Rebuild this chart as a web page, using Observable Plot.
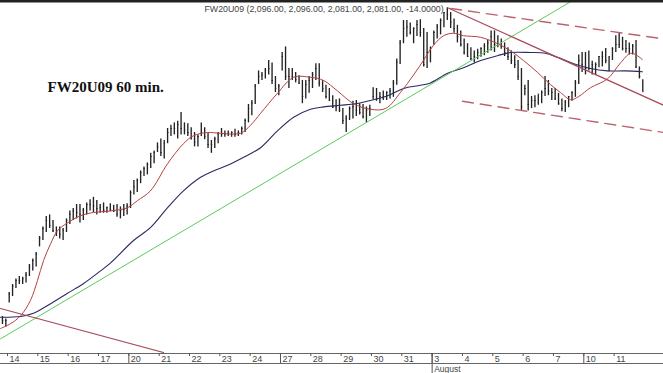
<!DOCTYPE html>
<html><head><meta charset="utf-8">
<script src="https://cdn.jsdelivr.net/npm/d3@7"></script>
<script src="https://cdn.jsdelivr.net/npm/@observablehq/plot@0.6"></script>
<style>body{margin:0;background:#fff;} #chart svg{display:block;}</style>
</head><body><div id="chart"></div>
<script>
// ---- data ----
const headerText = "FW20U09 (2,096.00, 2,096.00, 2,081.00, 2,081.00, -14.0000)";
const chartTitle = "FW20U09 60 min.";
const dayLabels = ["14","15","16","17","20","21","22","23","24","27","28","29","30","31","3","4","5","6","7","10","11"];
const weekStartDays = [4, 9, 14, 19];          // indices into dayLabels (Mondays)
const monthStartDay = 14;                      // index of first day of the new month
const monthLabel = "August";
const barsPerDay = 9;
const firstBar = -2;                           // two bars from the previous session

const highs = [1800,1797,
 1830,1840,1847,1850,1849,1855,1865,1872,1880,
 1900,1912,1925,1927,1920,1912,1912,1910,1922,
 1932,1935,1940,1940,1935,1942,1946,1949,1945,
 1940,1942,1937,1941,1939,1940,1937,1940,1941,
 1957,1970,1972,1982,1987,1992,2004,2007,2017,
 2022,2020,2035,2039,2042,2044,2055,2042,2041,
 2036,2030,2027,2042,2036,2029,2020,2024,2030,
 2035,2032,2032,2031,2034,2032,2037,2047,2065,
 2070,2090,2107,2105,2110,2120,2117,2100,2090,
 2130,2137,2110,2110,2105,2101,2095,2095,2100,
 2105,2116,2116,2095,2089,2085,2076,2071,2072,
 2060,2051,2062,2069,2070,2066,2065,2062,2064,
 2086,2085,2080,2082,2081,2085,2095,2122,2145,
 2170,2170,2167,2161,2170,2171,2160,2155,2137,
 2157,2165,2172,2180,2186,2180,2172,2164,2157,
 2147,2141,2136,2132,2134,2136,2141,2145,2157,
 2157,2151,2147,2142,2136,2132,2126,2120,2110,
 2089,2095,2075,2076,2077,2082,2100,2095,2085,
 2085,2079,2072,2070,2075,2081,2095,2127,2130,
 2130,2132,2119,2117,2125,2131,2135,2124,2136,
 2151,2154,2149,2145,2142,2140,2145,2112,2096];
const lows = [1790,1787,
 1817,1825,1835,1840,1840,1842,1850,1857,1862,
 1887,1895,1905,1910,1905,1900,1897,1895,1905,
 1915,1920,1922,1917,1920,1927,1932,1930,1927,
 1929,1929,1929,1931,1930,1924,1922,1925,1927,
 1935,1952,1955,1966,1975,1977,1985,1991,2005,
 2000,1997,2016,2025,2027,2022,2027,2027,2025,
 2021,2012,2012,2025,2021,2010,2004,2010,2016,
 2024,2024,2025,2024,2024,2025,2027,2030,2042,
 2051,2065,2090,2095,2097,2102,2090,2080,2076,
 2107,2095,2085,2095,2092,2090,2066,2072,2079,
 2085,2095,2087,2080,2072,2069,2060,2056,2055,
 2040,2030,2045,2047,2050,2052,2047,2042,2050,
 2071,2069,2066,2070,2070,2072,2074,2089,2115,
 2141,2149,2152,2141,2150,2149,2112,2110,2117,
 2139,2147,2152,2161,2170,2160,2154,2142,2137,
 2127,2124,2120,2117,2121,2124,2126,2129,2132,
 2130,2136,2134,2125,2120,2115,2110,2095,2057,
 2076,2057,2060,2061,2064,2066,2075,2076,2070,
 2070,2064,2056,2055,2061,2069,2074,2090,2105,
 2102,2107,2102,2101,2111,2112,2116,2106,2120,
 2130,2135,2132,2129,2127,2127,2110,2097,2081];
const closes = [1795,1795,
 1828,1838,1845,1845,1847,1852,1862,1870,1878,
 1898,1910,1920,1914,1907,1905,1903,1908,1920,
 1928,1932,1930,1928,1933,1940,1940,1938,1935,
 1936,1933,1936,1934,1932,1928,1932,1934,1938,
 1955,1962,1970,1980,1985,1990,2000,2005,2012,
 2005,2016,2030,2035,2035,2040,2035,2033,2030,
 2022,2018,2025,2030,2025,2015,2015,2022,2028,
 2028,2028,2029,2030,2028,2030,2035,2045,2060,
 2067,2088,2100,2102,2108,2110,2095,2085,2088,
 2125,2100,2100,2100,2096,2092,2075,2090,2095,
 2102,2110,2092,2085,2075,2070,2062,2062,2058,
 2045,2048,2060,2062,2058,2055,2050,2058,2060,
 2075,2072,2075,2075,2080,2082,2092,2118,2142,
 2160,2162,2155,2160,2165,2155,2115,2130,2135,
 2155,2162,2170,2180,2178,2168,2160,2150,2140,
 2130,2125,2122,2125,2130,2135,2138,2142,2150,
 2140,2140,2138,2130,2125,2120,2115,2100,2062,
 2085,2065,2070,2070,2078,2080,2085,2082,2080,
 2072,2066,2060,2068,2075,2080,2092,2120,2115,
 2110,2110,2115,2115,2125,2125,2120,2125,2135,
 2140,2140,2135,2135,2135,2138,2112,2100,2081];

// moving averages (bar index, price)
const redMaPos = [-2.6,0.4,3.4,6.3,8.4,10.2,12.3,14.3,17.3,21.2,25.0,30.1,35.1,38.1,41.9,47.0,51.7,54.7,58.8,62.7,68.6,71.6,74.6,79.6,84.4,89.4,93.3,97.4,102.2,107.2,111.7,116.1,120.0,122.9,125.9,128.9,131.8,134.8,139.9,144.9,148.8,152.6,156.8,160.6,163.6,166.6,169.0,172.5,177.5,181.4,184.4,186.4,187.9];
const redMaVal = [1785,1791,1801,1820,1845,1870,1891,1907,1917,1926,1930,1932,1936,1945,1957,1991,2016,2026,2030,2029,2029,2039,2054,2079,2099,2099,2095,2082,2066,2059,2060,2080,2102,2120,2139,2151,2154,2151,2149,2141,2132,2120,2105,2090,2080,2071,2075,2086,2097,2117,2129,2126,2121];
const navyMaPos = [-2.6,3.4,7.2,12.3,17.3,22.0,27.1,30.1,36.9,41.9,47.0,51.7,56.8,60.6,64.8,69.5,74.6,79.6,84.4,89.4,93.3,98.3,102.8,107.2,112.3,117.0,122.0,125.0,130.1,134.8,139.9,144.9,148.8,154.7,159.1,162.7,167.5,172.5,177.5,182.8,187.9];
const navyMaVal = [1799,1800,1804,1816,1829,1841,1857,1867,1895,1911,1936,1957,1974,1982,1989,1999,2011,2032,2049,2059,2062,2064,2066,2070,2076,2085,2089,2092,2104,2111,2120,2126,2130,2130,2129,2124,2116,2110,2107,2107,2106];

// hand-drawn trend lines (bar index, price) endpoints
const greenTrendPos = [-2.6, 167.2], greenTrendVal = [1772, 2195];
const redTrendLowPos = [-2.6, 45.8], redTrendLowVal = [1810, 1755];
const redTrendHighPos = [130.1, 194.2], redTrendHighVal = [2186, 2064];
const channelUpperPos = [131.0, 194.2], channelUpperVal = [2185, 2147];
const channelLowerPos = [134.5, 194.2], channelLowerVal = [2069, 2030];

// ---- build tables ----
const bars = highs.map((h, i) => ({j: firstBar + i, high: h, low: lows[i], close: closes[i]}));
const pts = (p, v) => p.map((x, i) => ({j: x, v: v[i]}));
const days = dayLabels.map((label, d) => ({pos: d * barsPerDay - 0.5, label}));
const weekPos = weekStartDays.map(d => days[d].pos);
const monthPos = days[monthStartDay].pos;

const W = 663, H = 373;
const plot = Plot.plot({
  width: W, height: H,
  marginTop: 0, marginBottom: 20, marginLeft: 0, marginRight: 0,
  style: {fontFamily: "Liberation Sans, Arial, sans-serif", background: "#fff"},
  x: {domain: [-2.58, 194.15], axis: null},
  y: {domain: [1753.75, 2195], axis: null},
  marks: [
    Plot.ruleX(bars, {x: "j", y1: "low", y2: "high", stroke: "#222", strokeWidth: 1.35}),
    Plot.ruleY(bars, {y: "close", x1: "j", x2: d => d.j + 0.4, stroke: "#222", strokeWidth: 1}),
    Plot.line(pts(navyMaPos, navyMaVal), {x: "j", y: "v", stroke: "#2a2a62", strokeWidth: 1.1, curve: "catmull-rom", clip: true}),
    Plot.line(pts(redMaPos, redMaVal), {x: "j", y: "v", stroke: "#b5403f", strokeWidth: 1, curve: "catmull-rom", clip: true}),
    Plot.line(pts(greenTrendPos, greenTrendVal), {x: "j", y: "v", stroke: "#5ccb5c", strokeWidth: 1, clip: true}),
    Plot.line(pts(redTrendLowPos, redTrendLowVal), {x: "j", y: "v", stroke: "#a84a5c", strokeWidth: 1.2, clip: true}),
    Plot.line(pts(redTrendHighPos, redTrendHighVal), {x: "j", y: "v", stroke: "#a84a5c", strokeWidth: 1.2, clip: true}),
    Plot.line(pts(channelUpperPos, channelUpperVal), {x: "j", y: "v", stroke: "#bb6470", strokeWidth: 1.4, strokeDasharray: "11,7", clip: true}),
    Plot.line(pts(channelLowerPos, channelLowerVal), {x: "j", y: "v", stroke: "#bb6470", strokeWidth: 1.4, strokeDasharray: "11,7", clip: true}),
    Plot.frame({anchor: "top", stroke: "#222", strokeWidth: 4}),
    Plot.frame({anchor: "bottom", stroke: "#666", strokeWidth: 1}),
    Plot.axisX(days.map(d => d.pos), {tickSize: 3, tickFormat: () => "", stroke: "#555"}),
    Plot.axisX(weekPos, {tickSize: 11, tickFormat: () => "", stroke: "#555"}),
    Plot.axisX([monthPos], {tickSize: 20, tickFormat: () => "", stroke: "#555"}),
    Plot.text(days, {x: "pos", text: "label", frameAnchor: "bottom", dy: 5.5, dx: 2, textAnchor: "start", lineAnchor: "middle", fontSize: 9, fill: "#444"}),
    Plot.text([monthLabel], {x: () => monthPos, text: d => d, frameAnchor: "bottom", dy: 16, dx: 2, textAnchor: "start", lineAnchor: "middle", fontSize: 8.5, fill: "#444"}),
    Plot.text([headerText], {frameAnchor: "top-left", dx: 204, dy: 9, text: d => d, textAnchor: "start", lineAnchor: "middle", fontSize: 8.8, fill: "#444"}),
    Plot.text([chartTitle], {frameAnchor: "top-left", dx: 47, dy: 87, text: d => d, textAnchor: "start", lineAnchor: "middle", fontSize: 15, fontWeight: "bold", fontFamily: "Liberation Serif, Times New Roman, serif", fill: "#111"})
  ]
});
// second (lower) axis border line
d3.select(plot).append("line")
  .attr("x1", 0).attr("x2", W).attr("y1", H - 9.5).attr("y2", H - 9.5)
  .attr("stroke", "#666").attr("stroke-width", 1);
document.getElementById("chart").appendChild(plot);
</script>
</body></html>
